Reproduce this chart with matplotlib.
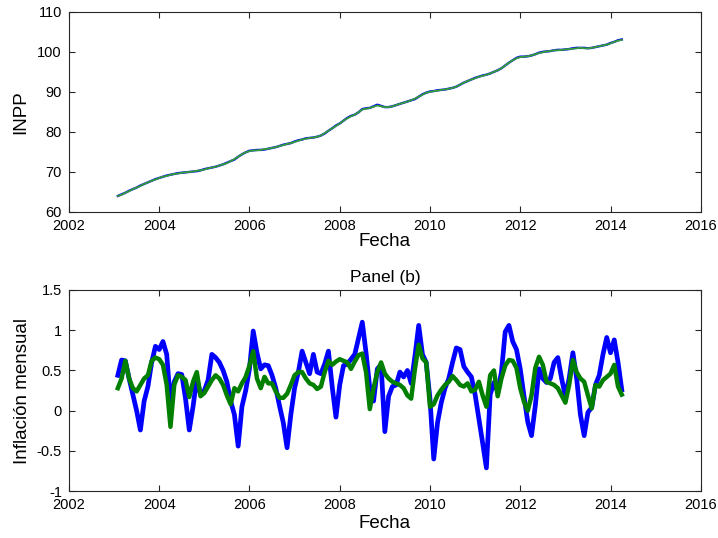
import numpy as np
import pandas as pd
import matplotlib
matplotlib.use('Agg')
import matplotlib.pyplot as plt

plt.rcParams['font.family'] = ['Liberation Sans', 'DejaVu Sans']

# monthly dates, Feb 2003 .. Apr 2014, as decimal years
fechas = pd.date_range('2003-02-01', '2014-04-01', freq='MS')
anio = fechas.year + (fechas.month - 1) / 12.0

# Panel (a): INPP level (blue) and smoothed series (green)
inpp = [
    64.0, 64.4, 64.8, 65.3, 65.7, 66.1, 66.6, 67.0, 67.4, 67.8, 68.2,          # 2003
    68.5, 68.8, 69.1, 69.3, 69.5, 69.7, 69.8, 69.9, 70.0, 70.1, 70.2, 70.4,    # 2004
    70.7, 70.9, 71.1, 71.3, 71.6, 71.9, 72.3, 72.7, 73.1, 73.8, 74.4, 74.9,    # 2005
    75.3, 75.4, 75.5, 75.5, 75.6, 75.8, 76.0, 76.2, 76.5, 76.8, 77.0, 77.2,    # 2006
    77.6, 77.9, 78.1, 78.4, 78.5, 78.6, 78.8, 79.1, 79.6, 80.3, 80.9, 81.6,    # 2007
    82.1, 82.8, 83.5, 84.0, 84.3, 84.9, 85.7, 85.9, 86.0, 86.4, 86.8, 86.5,    # 2008
    86.2, 86.2, 86.4, 86.7, 87.0, 87.3, 87.6, 87.9, 88.2, 88.8, 89.4, 89.8,    # 2009
    90.1, 90.2, 90.4, 90.5, 90.6, 90.8, 91.0, 91.3, 91.8, 92.3, 92.7, 93.1,    # 2010
    93.5, 93.8, 94.1, 94.3, 94.6, 95.0, 95.4, 95.9, 96.6, 97.3, 97.9, 98.5,    # 2011
    98.8, 98.8, 98.9, 99.1, 99.4, 99.8, 100.0, 100.1, 100.2, 100.4, 100.5, 100.5,  # 2012
    100.6, 100.7, 100.9, 101.0, 101.0, 101.0, 100.9, 101.0, 101.2, 101.4, 101.6, 101.8,  # 2013
    102.2, 102.5, 102.9, 103.1,                                               # 2014
]
inpp_suav = [
    64.0, 64.3, 64.8, 65.2, 65.7, 66.1, 66.5, 67.0, 67.4, 67.8, 68.1,
    68.5, 68.8, 69.0, 69.3, 69.5, 69.6, 69.8, 69.9, 70.0, 70.1, 70.3, 70.4,
    70.6, 70.9, 71.1, 71.3, 71.6, 71.9, 72.2, 72.7, 73.2, 73.8, 74.4, 74.9,
    75.2, 75.4, 75.4, 75.5, 75.7, 75.8, 76.0, 76.2, 76.5, 76.7, 77.0, 77.2,
    77.5, 77.8, 78.1, 78.3, 78.5, 78.6, 78.8, 79.1, 79.7, 80.3, 80.9, 81.5,
    82.1, 82.8, 83.4, 83.9, 84.3, 84.9, 85.6, 85.8, 86.0, 86.3, 86.6, 86.4,
    86.2, 86.2, 86.4, 86.7, 87.0, 87.3, 87.6, 87.9, 88.3, 88.8, 89.3, 89.8,
    90.0, 90.2, 90.3, 90.5, 90.6, 90.8, 91.0, 91.3, 91.8, 92.3, 92.7, 93.1,
    93.4, 93.8, 94.0, 94.3, 94.6, 95.0, 95.4, 95.9, 96.6, 97.3, 97.9, 98.4,
    98.7, 98.8, 98.9, 99.1, 99.4, 99.7, 99.9, 100.1, 100.2, 100.4, 100.4, 100.5,
    100.6, 100.7, 100.8, 100.9, 101.0, 100.9, 100.9, 101.0, 101.2, 101.4, 101.6, 101.8,
    102.1, 102.5, 102.8, 103.0,
]

# Panel (b): monthly inflation (blue) and smoothed (green)
infl = [
    0.44, 0.63, 0.62, 0.40, 0.20, 0.00, -0.24, 0.12, 0.30, 0.60, 0.80,        # 2003
    0.76, 0.86, 0.70, 0.10, 0.36, 0.46, 0.45, 0.15, -0.24, 0.05, 0.40, 0.20,  # 2004
    0.25, 0.38, 0.70, 0.66, 0.60, 0.50, 0.36, 0.12, -0.05, -0.44, 0.05, 0.25, # 2005
    0.52, 0.99, 0.72, 0.52, 0.57, 0.56, 0.44, 0.28, 0.06, -0.15, -0.46, -0.05,  # 2006
    0.28, 0.48, 0.74, 0.60, 0.46, 0.70, 0.48, 0.46, 0.58, 0.74, 0.30, -0.08,  # 2007
    0.32, 0.56, 0.58, 0.64, 0.70, 0.90, 1.10, 0.72, 0.28, 0.12, 0.52, 0.57,   # 2008
    -0.26, 0.18, 0.30, 0.32, 0.48, 0.42, 0.50, 0.34, 0.68, 1.06, 0.70, 0.60,  # 2009
    0.15, -0.60, -0.15, 0.10, 0.28, 0.40, 0.60, 0.78, 0.76, 0.55, 0.48, 0.42, # 2010
    0.20, -0.10, -0.40, -0.71, 0.20, 0.35, 0.24, 0.48, 0.98, 1.06, 0.86, 0.76,  # 2011
    0.52, 0.18, -0.14, -0.31, 0.06, 0.52, 0.40, 0.35, 0.40, 0.60, 0.66, 0.40, # 2012
    0.18, 0.40, 0.72, 0.40, -0.05, -0.31, -0.02, 0.04, 0.32, 0.44, 0.70, 0.91,  # 2013
    0.72, 0.88, 0.60, 0.26,                                                    # 2014
]
infl_suav = [
    0.28, 0.40, 0.62, 0.40, 0.28, 0.24, 0.32, 0.40, 0.44, 0.62, 0.66,
    0.64, 0.57, 0.32, -0.20, 0.32, 0.44, 0.42, 0.38, 0.17, 0.36, 0.48, 0.18,
    0.22, 0.30, 0.38, 0.44, 0.40, 0.32, 0.19, 0.08, 0.28, 0.24, 0.34, 0.42,
    0.56, 0.74, 0.40, 0.28, 0.42, 0.34, 0.34, 0.24, 0.16, 0.16, 0.21, 0.32,
    0.44, 0.48, 0.48, 0.40, 0.34, 0.32, 0.27, 0.30, 0.48, 0.62, 0.57, 0.61,
    0.64, 0.62, 0.60, 0.52, 0.61, 0.69, 0.71, 0.48, 0.02, 0.28, 0.48, 0.60,
    0.46, 0.40, 0.36, 0.34, 0.32, 0.28, 0.19, 0.15, 0.52, 0.82, 0.65, 0.60,
    0.05, 0.08, 0.19, 0.26, 0.32, 0.36, 0.43, 0.38, 0.32, 0.30, 0.34, 0.24,
    0.26, 0.36, 0.19, 0.05, 0.44, 0.50, 0.18, 0.40, 0.56, 0.63, 0.62, 0.53,
    0.28, 0.11, 0.00, 0.19, 0.53, 0.67, 0.57, 0.36, 0.34, 0.32, 0.28, 0.19,
    0.10, 0.32, 0.63, 0.48, 0.40, 0.36, 0.19, 0.03, 0.32, 0.30, 0.38, 0.42,
    0.46, 0.57, 0.30, 0.20,
]

x_ticks = list(range(2002, 2017, 2))
y_ticks_a = [60, 70, 80, 90, 100, 110]
y_ticks_b = [-1, -0.5, 0, 0.5, 1, 1.5]
y_labels_b = ['-1', '-0.5', '0', '0.5', '1', '1.5']

AXIS_COL = '#262626'


def style_axes(ax):
    for s in ax.spines.values():
        s.set_color(AXIS_COL)
        s.set_linewidth(0.8)
    ax.tick_params(direction='in', top=True, right=True, length=4, width=0.8,
                   color=AXIS_COL, labelcolor='black', labelsize=10.5, pad=5)
    ax.set_xlim(2002, 2016)
    ax.set_xticks(x_ticks)
    ax.set_xticklabels([str(t) for t in x_ticks])


fig = plt.figure(figsize=(7.18, 5.38), dpi=100)

# top panel
ax1 = fig.add_axes([0.096, 0.606, 0.880, 0.372])
ax1.plot(anio, inpp, color='#0000ff', lw=1.7)
ax1.plot(anio, inpp_suav, color='#34a034', lw=1.3)
style_axes(ax1)
ax1.set_ylim(60, 110)
ax1.set_yticks(y_ticks_a)
ax1.set_ylabel('INPP', fontsize=13.5, labelpad=6)
ax1.set_xlabel('Fecha', fontsize=13.5, labelpad=0)

# bottom panel
ax2 = fig.add_axes([0.096, 0.087, 0.880, 0.374])
ax2.plot(anio, infl, color='#0000ff', lw=3.4)
ax2.plot(anio, infl_suav, color='#007f00', lw=3.2)
style_axes(ax2)
ax2.set_ylim(-1, 1.5)
ax2.set_yticks(y_ticks_b)
ax2.set_yticklabels(y_labels_b)
ax2.set_ylabel('Inflación mensual', fontsize=13.5, labelpad=4)
ax2.set_xlabel('Fecha', fontsize=13.5, labelpad=2)
ax2.set_title('Panel (b)', fontsize=12.5, pad=6)

fig.savefig('out.png', dpi=100)
